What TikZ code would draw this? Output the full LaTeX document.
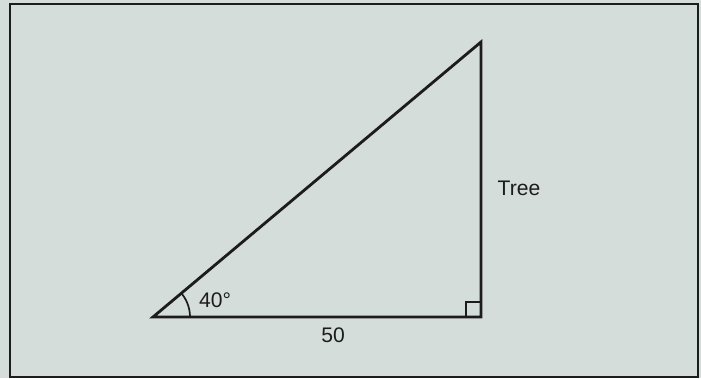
\documentclass[tikz,border=0pt]{standalone}
\usepackage{fontspec}
\setmainfont{Liberation Sans}
\usetikzlibrary{positioning, calc, angles}
\definecolor{PaperGrey}{RGB}{212,221,218}
\definecolor{InkBlack}{RGB}{28,28,28}
\tikzset{
    frame/.style={draw=InkBlack, line width=1.3pt},
    side/.style={draw=InkBlack, line width=2pt, line join=miter},
    lbl/.style={font=\fontsize{15}{17}\selectfont, text=InkBlack, inner sep=0pt}
}

\begin{document}
\begin{tikzpicture}[x=0.025cm, y=-0.025cm]
    % Paper and outer frame
    \fill[PaperGrey] (0,0) rectangle (701,378);
    \useasboundingbox (0,0) rectangle (701,378);
    \draw[frame] (10,4) rectangle (698,377);

    % Triangle corners
    \coordinate (base) at (153,317);
    \coordinate (foot) at (481,317);
    \coordinate (top) at (481,42);
    \draw[side] (base) -- (foot) -- (top) -- cycle;

    % Right angle and angle marks
    \draw[InkBlack, line width=1pt] (foot) ++(-15,0) -- ++(0,-15) -- ++(15,0);
    \pic[draw=InkBlack, line width=1.2pt, angle radius=0.925cm] {angle=foot--base--top};

    % Labels
    \node[lbl] (angle) at (215,300) {40°};
    \node[lbl] (width) at (333,335) {50};
    \node[lbl] (tree) at (519,188) {Tree};
\end{tikzpicture}
\end{document}
